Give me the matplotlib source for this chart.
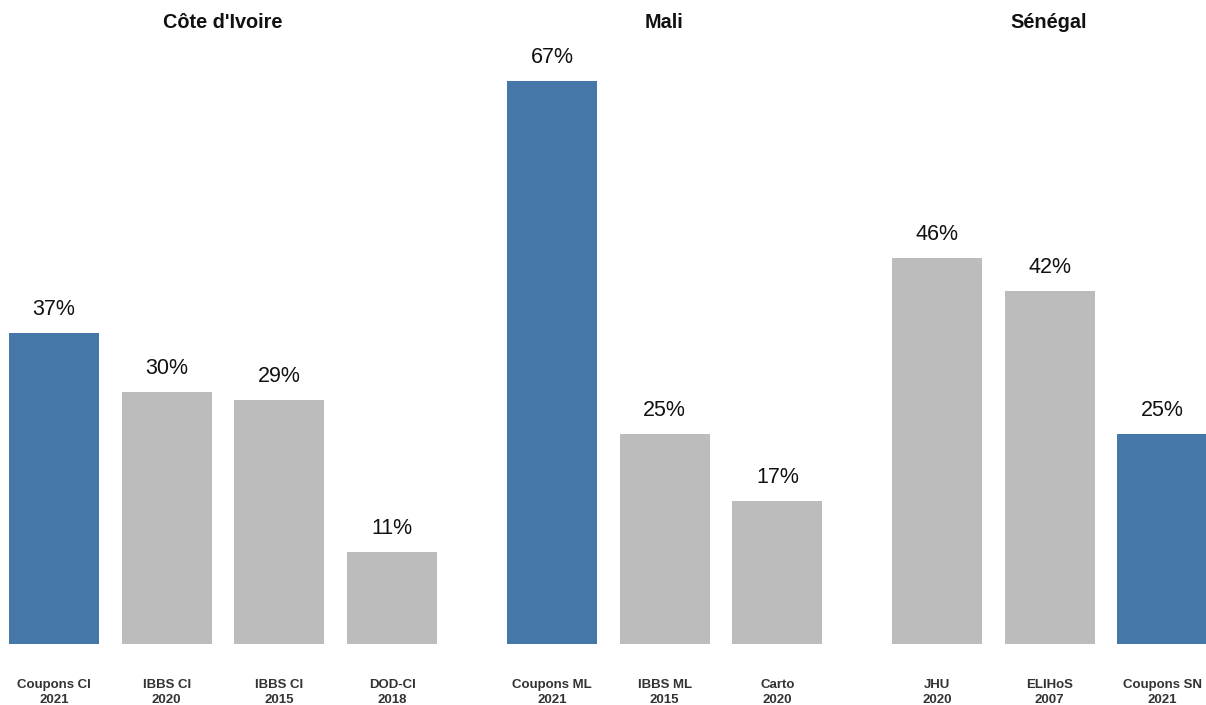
import matplotlib.pyplot as plt

plt.rcParams['font.family'] = ['Liberation Sans', 'DejaVu Sans']

countries = ["Côte d'Ivoire", "Mali", "Sénégal"]
labels = [
    ["Coupons CI\n2021", "IBBS CI\n2020", "IBBS CI\n2015", "DOD-CI\n2018"],
    ["Coupons ML\n2021", "IBBS ML\n2015", "Carto\n2020"],
    ["JHU\n2020", "ELIHoS\n2007", "Coupons SN\n2021"],
]
values = [
    [37, 30, 29, 11],
    [67, 25, 17],
    [46, 42, 25],
]
coupons = [
    [True, False, False, False],
    [True, False, False],
    [False, False, True],
]

blue = '#4677a9'
grey = '#bcbcbc'

W, H = 1206, 705
fig = plt.figure(figsize=(W / 100, H / 100), dpi=100)

unit = 112.7          # px per bar slot
px_per_pct = 8.4      # px per percentage point
bottom_px = 644
ymax = 75
first_centers = [54, 552, 937]
right_lim = [3.479, 2.479, 2.39]
title_x = [223, 664, 1049]

for i, name in enumerate(countries):
    left_lim = -54 / unit
    x0 = first_centers[i] - 54
    w = (right_lim[i] - left_lim) * unit
    h = ymax * px_per_pct
    ax = fig.add_axes([x0 / W, (H - bottom_px) / H, w / W, h / H])
    xs = list(range(len(values[i])))
    cols = [blue if c else grey for c in coupons[i]]
    ax.bar(xs, values[i], width=0.8, color=cols)
    for x, v in zip(xs, values[i]):
        ax.text(x, v + 2.8, f'{v}%', ha='center', va='center', fontsize=15.5, color='#111111')
    ax.set_xlim(left_lim, right_lim[i])
    ax.set_ylim(0, ymax)
    ax.set_xticks(xs)
    ax.set_xticklabels(labels[i], fontsize=9.5, fontweight='bold', color='#333333', linespacing=1.35)
    ax.tick_params(axis='x', length=0, pad=25)
    ax.set_yticks([])
    for s in ax.spines.values():
        s.set_visible(False)
    fig.text(title_x[i] / W, 1 - 22 / H, name, ha='center', va='center',
             fontsize=14.3, fontweight='bold', color='#111111')

fig.savefig('out.png', dpi=100)
